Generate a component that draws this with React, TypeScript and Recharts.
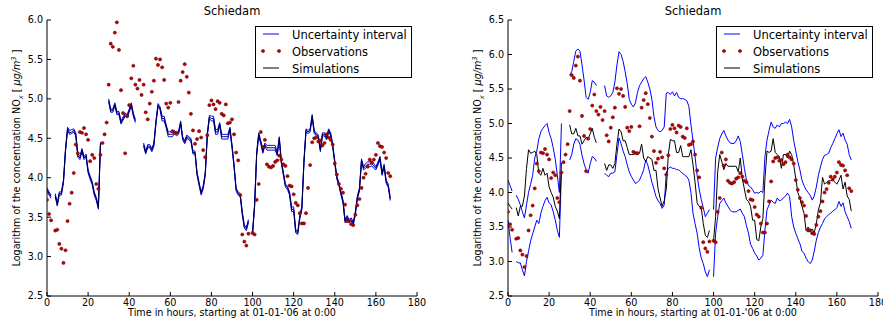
import React from 'react';
import { ComposedChart, Line, Scatter, XAxis, YAxis } from 'recharts';

const FONT = "'DejaVu Sans', sans-serif";

// Observations (log NOx), hours 0..167
const observations = [
  3.72, 3.54, 3.46, null, 3.33, 3.34, 3.16, 3.10, 2.92, 3.08,
  3.45, 3.67, 3.81, 4.06, 4.42, 4.31, 4.58, 4.57, 4.63, 4.55,
  4.48, 4.21, 4.29, 4.25, 3.92, 3.86, 4.29, 4.44, 4.55, 4.70,
  5.18, 5.70, 5.66, 5.84, 5.97, 5.62, 5.11, 4.82, 4.31, 4.78,
  4.92, 5.26, 5.42, 5.18, 5.13, 5.24, 5.05, 5.18, 4.83, 4.74,
  4.94, 5.09, 5.23, 5.51, 5.43, 5.50, 5.40, 5.24, 4.94, 4.89,
  4.95, 4.59, 4.57, 4.57, 4.96, 5.23, 5.34, 5.44, 5.28, 5.08,
  4.81, 4.60, 4.43, 4.49, 4.59, 4.51, 4.35, 4.26, 4.54, 4.92,
  4.98, 4.93, 4.87, 4.97, 4.95, 4.81, 4.79, 4.93, 4.69, 4.70,
  4.74, 4.55, 4.32, 4.22, 3.78, 3.28, 3.19, 3.14, 3.29, null,
  3.30, 3.28, 3.72, 3.92, 4.58, 4.39, 4.48, 4.17, 4.14, 4.13,
  4.15, 4.20, 4.22, 4.28, 4.23, 4.17, 4.15, 4.02, 3.90, 3.89,
  3.79, 3.68, 3.65, 3.55, 3.42, 3.42, 3.55, 3.87, 4.16, 4.45,
  4.50, 4.51, 4.46, 4.47, 4.41, 4.44, 4.55, 4.51, 4.48, 4.42,
  4.18, 4.04, 3.92, 3.86, 3.81, 3.66, 3.45, 3.45, 3.41, 3.40,
  3.53, 3.65, 3.73, 3.87, 4.00, 4.05, 4.14, 4.23, 4.19, 4.23,
  4.29, 4.44, 4.40, 4.39, 4.32, 4.25, 4.06, 4.02,
];

// Simulations
const simulations = [
  3.85, 3.80, 3.76, null, 3.78, 3.66, 3.80, 3.80, 3.95, 4.35,
  4.62, 4.57, 4.58, 4.60, 4.55, 4.28, 4.25, 4.35, 4.25, 4.28,
  4.08, 4.00, 3.93, 3.80, 3.73, 3.62, 4.43, null, null, null,
  4.98, 4.85, 4.85, 4.93, 4.82, 4.82, 4.70, 4.75, 4.80, 4.78,
  4.85, 4.93, 4.80, 4.72, null, null, null, 4.42, 4.32, 4.40,
  4.40, 4.35, 4.42, 4.70, 4.92, 4.88, 4.75, 4.75, 4.65, 4.55,
  4.55, 4.55, 4.58, 4.55, 4.57, 4.70, 4.50, 4.45, 4.52, 4.50,
  4.48, 4.32, 4.32, 4.05, 3.92, 3.80, 3.88, 4.05, 4.55, 4.77,
  4.75, 4.75, 4.58, 4.58, 4.68, 4.52, 4.52, 4.52, 4.52, 4.62,
  4.40, 4.15, 3.85, 3.80, 3.78, 3.55, 3.38, 3.35, 3.45, null,
  3.30, 3.65, 4.30, 4.55, 4.45, 4.33, 4.42, 4.38, 4.38, 4.38,
  4.38, 4.38, 4.30, 4.50, 4.20, 4.05, 3.90, 3.87, 3.80, 3.60,
  3.60, 3.32, 3.30, 3.50, 3.62, 4.20, 4.60, 4.58, 4.60, 4.78,
  4.58, 4.55, 4.52, 4.35, 4.55, 4.55, 4.50, 4.60, 4.55, 4.40,
  4.20, 4.00, 3.92, 3.80, 3.70, 3.45, 3.50, 3.45, 3.47, 3.42,
  3.55, 3.75, 3.85, 4.22, 4.12, 4.15, 4.17, 4.17, 4.18, 4.15,
  4.12, 4.18, 4.25, 4.05, 4.15, 3.95, 3.90, 3.73,
];

// Left panel: narrow uncertainty interval
const leftUpper = [
  3.87, 3.82, 3.78, null, 3.80, 3.68, 3.82, 3.82, 3.97, 4.37,
  4.64, 4.60, 4.61, 4.62, 4.57, 4.30, 4.27, 4.37, 4.27, 4.30,
  4.10, 4.02, 3.95, 3.82, 3.75, 3.64, 4.45, null, null, null,
  5.00, 4.87, 4.87, 4.95, 4.84, 4.84, 4.72, 4.77, 4.82, 4.80,
  4.87, 4.95, 4.82, 4.74, null, null, null, 4.44, 4.34, 4.42,
  4.42, 4.37, 4.44, 4.72, 4.94, 4.90, 4.78, 4.78, 4.67, 4.58,
  4.58, 4.58, 4.60, 4.57, 4.59, 4.72, 4.52, 4.47, 4.54, 4.52,
  4.50, 4.34, 4.34, 4.07, 3.94, 3.82, 3.90, 4.07, 4.57, 4.79,
  4.78, 4.78, 4.61, 4.61, 4.70, 4.55, 4.55, 4.55, 4.55, 4.64,
  4.42, 4.17, 3.87, 3.82, 3.80, 3.57, 3.40, 3.37, 3.47, null,
  3.32, 3.67, 4.32, 4.57, 4.47, 4.35, 4.44, 4.41, 4.41, 4.41,
  4.41, 4.41, 4.32, 4.52, 4.22, 4.07, 3.92, 3.89, 3.82, 3.63,
  3.63, 3.34, 3.32, 3.52, 3.64, 4.22, 4.62, 4.60, 4.62, 4.80,
  4.60, 4.57, 4.54, 4.37, 4.57, 4.57, 4.52, 4.62, 4.57, 4.42,
  4.22, 4.02, 3.94, 3.82, 3.72, 3.47, 3.52, 3.47, 3.49, 3.44,
  3.57, 3.77, 3.87, 4.24, 4.14, 4.18, 4.20, 4.20, 4.21, 4.18,
  4.14, 4.20, 4.27, 4.07, 4.17, 3.97, 3.92, 3.75,
];
const leftLower = [
  3.83, 3.78, 3.74, null, 3.76, 3.64, 3.78, 3.78, 3.93, 4.33,
  4.60, 4.55, 4.56, 4.58, 4.53, 4.26, 4.23, 4.33, 4.23, 4.26,
  4.06, 3.98, 3.91, 3.78, 3.71, 3.60, 4.41, null, null, null,
  4.96, 4.83, 4.83, 4.91, 4.80, 4.80, 4.68, 4.73, 4.78, 4.76,
  4.83, 4.91, 4.78, 4.70, null, null, null, 4.40, 4.30, 4.38,
  4.38, 4.33, 4.40, 4.68, 4.90, 4.86, 4.72, 4.72, 4.63, 4.52,
  4.52, 4.52, 4.56, 4.53, 4.55, 4.68, 4.48, 4.43, 4.50, 4.48,
  4.46, 4.30, 4.30, 4.03, 3.90, 3.78, 3.86, 4.03, 4.53, 4.75,
  4.72, 4.72, 4.55, 4.55, 4.66, 4.49, 4.49, 4.49, 4.49, 4.60,
  4.38, 4.13, 3.83, 3.78, 3.76, 3.53, 3.36, 3.33, 3.43, null,
  3.28, 3.63, 4.28, 4.53, 4.43, 4.31, 4.40, 4.35, 4.35, 4.35,
  4.35, 4.35, 4.28, 4.48, 4.18, 4.03, 3.88, 3.85, 3.78, 3.57,
  3.57, 3.30, 3.28, 3.48, 3.60, 4.18, 4.58, 4.56, 4.58, 4.76,
  4.56, 4.53, 4.50, 4.33, 4.53, 4.53, 4.48, 4.58, 4.53, 4.38,
  4.18, 3.98, 3.90, 3.78, 3.68, 3.43, 3.48, 3.43, 3.45, 3.40,
  3.53, 3.73, 3.83, 4.20, 4.10, 4.12, 4.14, 4.14, 4.15, 4.12,
  4.10, 4.16, 4.23, 4.03, 4.13, 3.93, 3.88, 3.71,
];

// Right panel: wide uncertainty interval
const rightUpper = [
  4.18, 4.10, 4.02, null, 3.96, 3.90, 3.82, 3.72, 3.63, 3.82,
  4.00, 4.12, 4.25, 4.50, 4.60, 4.78, 4.88, 4.93, 4.97, 5.00,
  4.87, 4.78, 4.65, 4.48, 4.25, 4.00, 5.00, null, null, null,
  5.70, 5.75, 5.90, 6.05, 6.08, 6.05, 5.85, 5.63, 5.38, 5.35,
  5.45, 5.62, 5.60, 5.55, null, null, null, 5.55, 5.40, 5.38,
  5.40, 5.45, 5.60, 5.85, 6.04, 6.00, 5.90, 5.75, 5.58, 5.35,
  5.28, 5.24, 5.30, 5.45, 5.55, 5.60, 5.65, 5.68, 5.60, 5.50,
  5.35, 5.10, 4.95, 4.90, 4.88, 4.90, 4.95, 5.44, 5.45, 5.42,
  5.46, 5.40, 5.45, 5.38, 5.36, 5.36, 5.35, 5.33, 5.25, 4.98,
  4.75, 4.52, 4.25, 4.05, 3.90, 3.78, 3.65, 3.70, 3.75, null,
  3.75, 4.50, 4.65, 4.78, 4.85, 4.90, 4.82, 4.76, 4.72, 4.71,
  4.71, 4.75, 4.82, 4.74, 4.55, 4.35, 4.18, 4.10, 4.08, 4.04,
  3.99, 4.00, 3.99, 4.02, 4.00, 4.52, 4.76, 4.90, 5.02, 4.95,
  4.93, 4.98, 4.95, 5.00, 5.00, 5.02, 5.00, 5.06, 4.95, 4.75,
  4.60, 4.45, 4.33, 4.18, 4.10, 4.04, 4.00, 3.96, 3.89, 3.95,
  4.08, 4.25, 4.37, 4.48, 4.54, 4.55, 4.57, 4.65, 4.71, 4.78,
  4.85, 4.91, 4.81, 4.86, 4.76, 4.70, 4.55, 4.47,
];
const rightLower = [
  3.60, 3.35, 3.13, null, 3.00, 2.98, 2.98, 2.88, 2.79, 3.00,
  3.15, 3.30, 3.40, 3.50, 3.60, 3.55, 3.70, 3.80, 3.88, 3.93,
  3.85, 3.82, 3.72, 3.60, 3.45, 3.35, 4.30, null, null, null,
  4.47, 4.55, 4.70, 4.78, 4.76, 4.70, 4.54, 4.42, 4.33, 4.28,
  4.42, 4.52, 4.50, 4.45, null, null, null, 4.28, 4.25, 4.23,
  4.28, 4.28, 4.30, 4.55, 4.79, 4.71, 4.60, 4.52, 4.40, 4.30,
  4.23, 4.18, 4.13, 4.15, 4.18, 4.25, 4.33, 4.47, 4.40, 4.28,
  4.15, 4.05, 3.94, 3.88, 3.84, 3.77, 3.82, 4.28, 4.35, 4.37,
  4.35, 4.35, 4.33, 4.33, 4.30, 4.28, 4.25, 4.23, 4.18, 4.00,
  3.70, 3.55, 3.41, 3.20, 3.05, 2.97, 2.85, 2.78, 2.88, null,
  2.78, 3.41, 3.65, 3.84, 3.88, 3.92, 3.85, 3.80, 3.75, 3.72,
  3.72, 3.72, 3.74, 3.76, 3.70, 3.65, 3.52, 3.41, 3.25, 3.19,
  3.12, 3.08, 3.02, 3.05, 3.09, 3.46, 3.75, 3.82, 3.89, 3.86,
  3.84, 3.92, 3.88, 3.89, 3.92, 3.95, 3.99, 3.94, 3.65, 3.50,
  3.41, 3.33, 3.26, 3.15, 3.12, 3.05, 3.00, 2.97, 3.02, 3.15,
  3.31, 3.42, 3.50, 3.55, 3.62, 3.65, 3.68, 3.70, 3.73, 3.75,
  3.78, 3.87, 3.80, 3.85, 3.72, 3.65, 3.58, 3.48,
];

const xTicks = [0, 20, 40, 60, 80, 100, 120, 140, 160, 180];
const leftYTicks = [2.5, 3.0, 3.5, 4.0, 4.5, 5.0, 5.5, 6.0];
const rightYTicks = [2.5, 3.0, 3.5, 4.0, 4.5, 5.0, 5.5, 6.0, 6.5];
const titleText = 'Schiedam';
const xLabelText = "Time in hours, starting at 01-01-'06 at 0:00";
const legendLabels = ['Uncertainty interval', 'Observations', 'Simulations'];

const BLUE = '#0000ff';
const RED = '#c00000';

const leftTable = simulations.map((s, h) => ({ h, sim: s, up: leftUpper[h], lo: leftLower[h] }));
const rightTable = simulations.map((s, h) => ({ h, sim: s, up: rightUpper[h], lo: rightLower[h] }));
const obsPoints = observations
  .map((v, h) => ({ h, obs: v }))
  .filter((d) => d.obs !== null);

const tickStyle = { fontSize: 9.6, fill: '#000', fontFamily: FONT };

const Dot = (props: any) => {
  if (props.cx == null || props.cy == null) return null;
  return <circle cx={props.cx} cy={props.cy} r={1.6} fill={RED} stroke="#5a0000" strokeWidth={0.5} />;
};

function Panel({ table, yTicks, yWidth, width, rightMargin, darkSim }: any) {
  const yMax = yTicks[yTicks.length - 1];
  return (
    <ComposedChart
      width={width}
      height={321}
      data={table}
      margin={{ top: 20, right: rightMargin, bottom: 0, left: 0 }}
    >
      <XAxis
        dataKey="h"
        type="number"
        domain={[0, 180]}
        ticks={xTicks}
        allowDataOverflow
        height={25}
        tickSize={-4}
        tickMargin={7}
        interval={0}
        stroke="#000"
        tick={tickStyle}
        tickFormatter={(v: number) => String(v)}
      />
      <XAxis
        xAxisId="top"
        dataKey="h"
        orientation="top"
        type="number"
        domain={[0, 180]}
        ticks={xTicks}
        allowDataOverflow
        height={0}
        mirror
        tickSize={4}
        tick={false}
        stroke="#000"
      />
      <YAxis
        type="number"
        domain={[2.5, yMax]}
        ticks={yTicks}
        allowDataOverflow
        width={yWidth}
        tickSize={-4}
        tickMargin={8}
        interval={0}
        stroke="#000"
        tick={tickStyle}
        tickFormatter={(v: number) => v.toFixed(1)}
      />
      <YAxis
        yAxisId="right"
        orientation="right"
        type="number"
        domain={[2.5, yMax]}
        ticks={yTicks}
        allowDataOverflow
        width={0}
        mirror
        tickSize={4}
        tick={false}
        stroke="#000"
      />
      <Line dataKey="up" type="linear" stroke={BLUE} strokeWidth={1} dot={false} isAnimationActive={false} connectNulls={false} />
      <Line dataKey="lo" type="linear" stroke={BLUE} strokeWidth={1} dot={false} isAnimationActive={false} connectNulls={false} />
      <Scatter data={obsPoints} dataKey="obs" shape={Dot} isAnimationActive={false} />
      <Line dataKey="sim" type="linear" stroke={darkSim ? '#000030' : '#000'} strokeWidth={1} dot={false} isAnimationActive={false} connectNulls={false} />
    </ComposedChart>
  );
}

function LegendBox({ left }: { left: number }) {
  const rows = [8, 25, 42];
  return (
    <div
      style={{
        position: 'absolute', left, top: 26, width: 157, height: 52,
        border: '1px solid #000', background: '#fff', boxSizing: 'border-box',
        fontFamily: FONT, fontSize: 11.5, color: '#000',
      }}
    >
      <svg width={157} height={52} style={{ position: 'absolute', left: -1, top: -1 }}>
        <line x1={8} x2={24} y1={rows[0]} y2={rows[0]} stroke={BLUE} strokeWidth={1} />
        <circle cx={8} cy={rows[1]} r={1.6} fill={RED} stroke="#5a0000" strokeWidth={0.5} />
        <circle cx={24} cy={rows[1]} r={1.6} fill={RED} stroke="#5a0000" strokeWidth={0.5} />
        <line x1={8} x2={24} y1={rows[2]} y2={rows[2]} stroke="#000" strokeWidth={1} />
      </svg>
      {legendLabels.map((t, i) => (
        <div key={t} style={{ position: 'absolute', left: 36, top: rows[i] - 8, lineHeight: '16px', whiteSpace: 'nowrap' }}>{t}</div>
      ))}
    </div>
  );
}

function YLabel({ cx }: { cx: number }) {
  return (
    <div
      style={{
        position: 'absolute', left: cx, top: 158, transform: 'translate(-50%, -50%) rotate(-90deg)',
        whiteSpace: 'nowrap', fontFamily: FONT, fontSize: 9.6, color: '#000', lineHeight: '12px',
      }}
    >
      Logarithm of the concentration NO<sub style={{ fontSize: '70%', lineHeight: 0, fontStyle: 'italic' }}>x</sub>
      {'  '}[ <i>μg/m<sup style={{ fontSize: '70%', lineHeight: 0 }}>3</sup></i> ]
    </div>
  );
}

function Caption({ cx, cy, text, size }: { cx: number; cy: number; text: string; size: number }) {
  return (
    <div
      style={{
        position: 'absolute', left: cx, top: cy, transform: 'translate(-50%, -50%)',
        whiteSpace: 'nowrap', fontFamily: FONT, fontSize: size, color: '#000', lineHeight: '14px',
      }}
    >
      {text}
    </div>
  );
}

export default function App() {
  return (
    <div style={{ position: 'absolute', left: 0, top: 0, width: 883, height: 321, background: '#fff', overflow: 'hidden' }}>
      <div style={{ position: 'absolute', left: 0, top: 0 }}>
        <Panel table={leftTable} yTicks={leftYTicks} yWidth={47} width={441} rightMargin={24} darkSim />
      </div>
      <div style={{ position: 'absolute', left: 441, top: 0 }}>
        <Panel table={rightTable} yTicks={rightYTicks} yWidth={67} width={442} rightMargin={5} />
      </div>
      <Caption cx={232} cy={11} text={titleText} size={11.5} />
      <Caption cx={693} cy={11} text={titleText} size={11.5} />
      <Caption cx={232} cy={313} text={xLabelText} size={9.6} />
      <Caption cx={693} cy={313} text={xLabelText} size={9.6} />
      <YLabel cx={17} />
      <YLabel cx={478} />
      <LegendBox left={255} />
      <LegendBox left={716} />
    </div>
  );
}
